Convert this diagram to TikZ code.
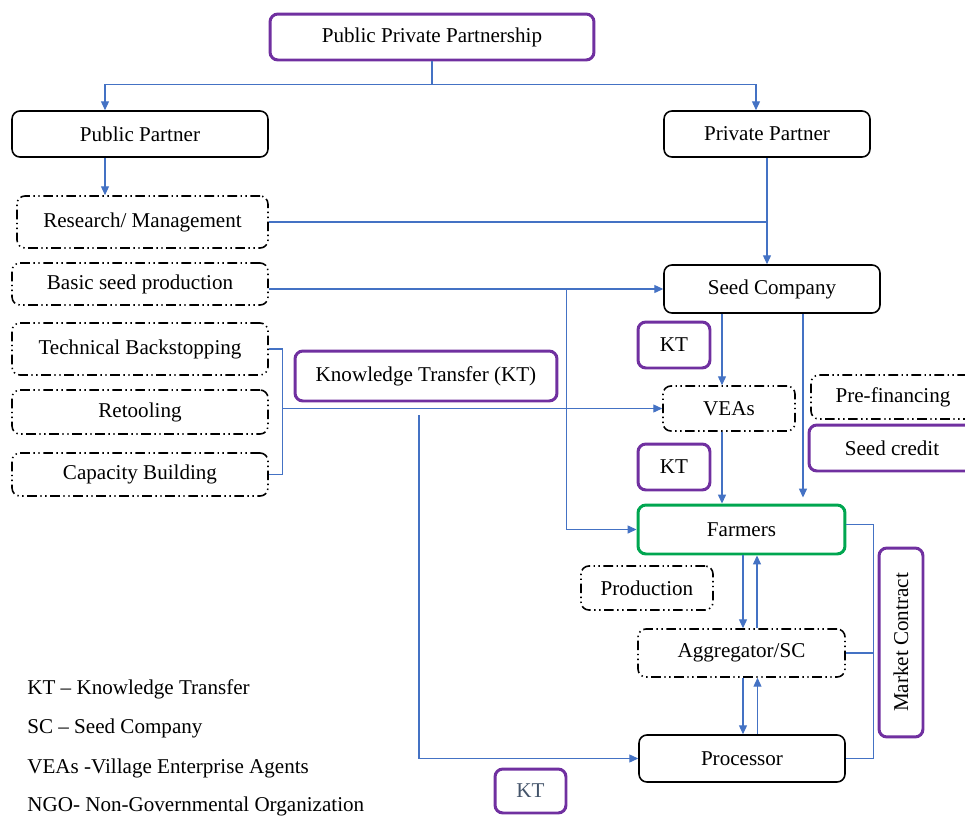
\documentclass[tikz,border=0pt]{standalone}
\usepackage{fontspec}
\setmainfont{Liberation Serif}
\usepackage{tikz}
\usetikzlibrary{arrows.meta, calc, positioning}

\definecolor{linkblue}{HTML}{4472C4}
\definecolor{kpurple}{HTML}{7030A0}
\definecolor{fgreen}{HTML}{00A650}
\definecolor{ktgrey}{HTML}{44546A}

\begin{document}
\begin{tikzpicture}[x=0.02cm, y=-0.02cm,
        font=\fontsize{12}{14}\selectfont,
        box/.style={draw=black, line width=0.9pt, rounded corners=4.5pt, inner sep=0pt, align=center},
        dotbox/.style={box, dash pattern=on 5.5pt off 2pt on 0.8pt off 2pt on 0.8pt off 2pt},
        ktbox/.style={box, draw=kpurple, line width=1.7pt},
        farmbox/.style={box, draw=fgreen, line width=1.7pt},
        legend/.style={anchor=west, inner sep=0pt},
        link/.style={draw=linkblue, line width=0.6pt},
        arr/.style={link, -{Triangle[length=5pt, width=4.5pt]}}]

    \useasboundingbox (0,0) rectangle (965,816);

    % top level
    \node[ktbox, minimum width=6.48cm, minimum height=0.92cm] (ppp) at (432,37) {Public Private Partnership};
    \node[box, minimum width=5.12cm, minimum height=0.92cm] (pub) at (140,134) {Public Partner};
    \node[box, minimum width=4.12cm, minimum height=0.92cm] (priv) at (767,134) {Private Partner};

    % public partner side
    \node[dotbox, minimum width=5.02cm, minimum height=1.04cm] (research) at (142.5,222) {Research/ Management};
    \node[dotbox, minimum width=5.12cm, minimum height=0.84cm] (basic) at (140,284) {Basic seed production};
    \node[dotbox, minimum width=5.12cm, minimum height=1.04cm] (tech) at (140,349) {Technical Backstopping};
    \node[dotbox, minimum width=5.12cm, minimum height=0.88cm] (retool) at (140,412) {Retooling};
    \node[dotbox, minimum width=5.12cm, minimum height=0.86cm] (capacity) at (140,474.5) {Capacity Building};
    \node[ktbox, minimum width=5.24cm, minimum height=1.0cm] (ktmain) at (426,376) {Knowledge Transfer (KT)};

    % private partner side
    \node[box, minimum width=4.32cm, minimum height=0.96cm] (seed) at (772,289) {Seed Company};
    \node[ktbox, minimum width=1.44cm, minimum height=0.92cm] (ktA) at (674,345) {KT};
    \node[dotbox, minimum width=2.64cm, minimum height=0.9cm] (veas) at (729,408.5) {VEAs};
    \node[dotbox, minimum width=3.28cm, minimum height=0.88cm] (prefin) at (893,397) {Pre-financing};
    \node[ktbox, minimum width=3.32cm, minimum height=0.92cm] (credit) at (892,448) {Seed credit};
    \node[ktbox, minimum width=1.44cm, minimum height=0.92cm] (ktB) at (674,467) {KT};
    \node[farmbox, minimum width=4.14cm, minimum height=0.98cm] (farmers) at (741.5,529.5) {Farmers};
    \node[dotbox, minimum width=2.64cm, minimum height=0.88cm] (prod) at (647,588) {Production};
    \node[dotbox, minimum width=4.14cm, minimum height=0.96cm] (aggr) at (741.5,653) {Aggregator/SC};
    \node[box, minimum width=4.12cm, minimum height=0.94cm] (proc) at (742,758.5) {Processor};
    \node[ktbox, minimum width=0.88cm, minimum height=3.78cm] (market) at (901,642.5) {};
    \node[rotate=90] (marketlbl) at (market) {Market Contract};
    \node[ktbox, minimum width=1.42cm, minimum height=0.88cm, text=ktgrey] (ktC) at (530.5,791) {KT};

    % legend
    \node[legend] (lgKT) at (27,689) {KT -- Knowledge Transfer};
    \node[legend] (lgSC) at (27,728) {SC -- Seed Company};
    \node[legend] (lgVEA) at (27,768) {VEAs -Village Enterprise Agents};
    \node[legend] (lgNGO) at (27,806) {NGO- Non-Governmental Organization};

    % connectors
    \draw[link] (ppp.south) -- ++(0,23) coordinate (split);
    \draw[arr] (split) -| ($(pub.north)+(-35,0)$);
    \draw[arr] (split) -| ($(priv.north)+(-11,0)$);
    \draw[arr] ($(pub.south)+(-35,0)$) coordinate (p1) -- (p1 |- research.north);
    \draw[arr] (priv.south) -- (priv.south |- seed.north);
    \draw[link] (research.east) -- (research.east -| priv.south);
    \draw[arr] (seed.west -| basic.east) -- (seed.west);
    \draw[arr] ($(seed.west)+(-97,0)$) |- (farmers.west);

    \draw[link] (tech.east) -- ++(14,0) coordinate (bt) -- (bt |- capacity.east) -- (capacity.east);
    \draw[arr] (bt |- veas.west) -- (veas.west);
    \coordinate (ktline) at (419,415);
    \draw[arr] (ktline) |- (proc.west);

    \draw[arr] ($(seed.south)+(-50,0)$) coordinate (s1) -- (s1 |- veas.north);
    \draw[arr] ($(seed.south)+(31,0)$) coordinate (s2) -- ($(s2 |- farmers.north)+(0,-6)$);
    \draw[arr] ($(veas.south)+(-7,0)$) coordinate (v1) -- (v1 |- farmers.north);

    \draw[arr] ($(farmers.south)+(1.5,0)$) coordinate (f1) -- (f1 |- aggr.north);
    \draw[arr] ($(aggr.north)+(15.5,0)$) coordinate (f2) -- (f2 |- farmers.south);
    \draw[arr] ($(aggr.south)+(1.5,0)$) coordinate (a1) -- (a1 |- proc.north);
    \draw[arr] ($(proc.north)+(15.5,0)$) coordinate (a2) -- (a2 |- aggr.south);

    \draw[link] ($(farmers.east)+(0,-5)$) -- ++(27,0) coordinate (mc) -- (mc |- proc.east) -- (proc.east);
    \draw[link] (aggr.east) -- (aggr.east -| mc);
\end{tikzpicture}
\end{document}
